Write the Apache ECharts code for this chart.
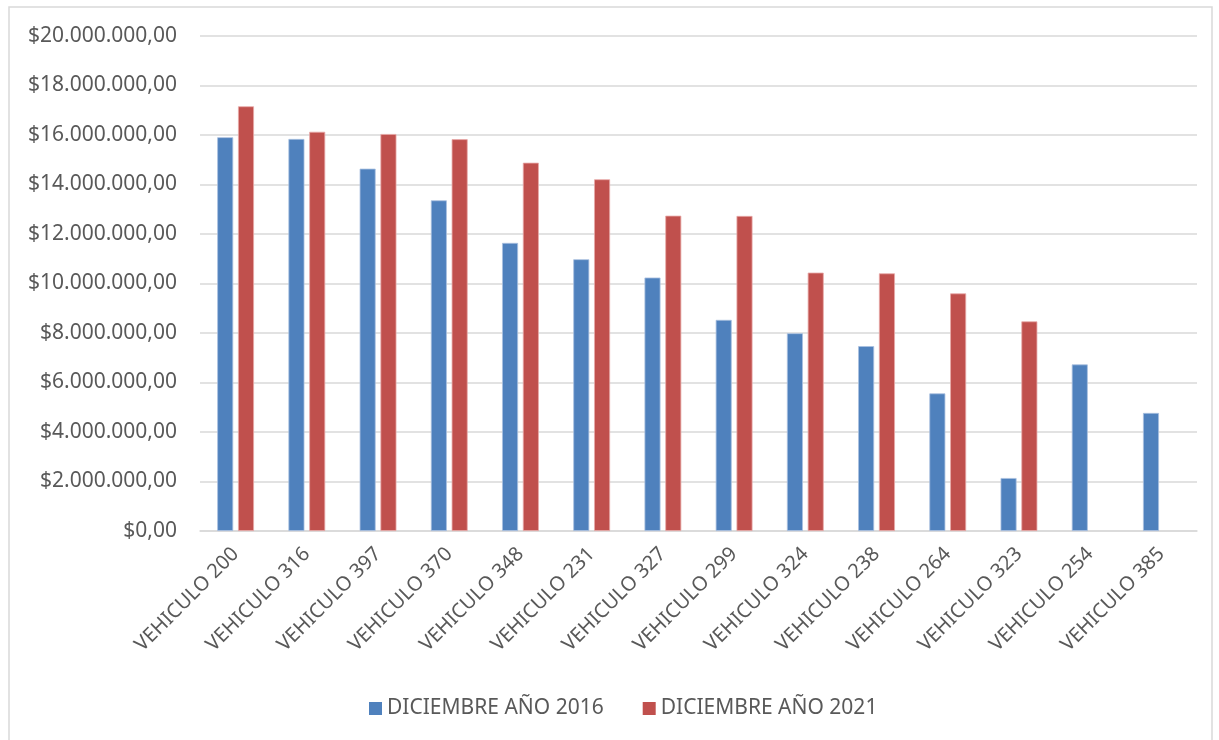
<!DOCTYPE html>
<html>
<head>
<meta charset="utf-8">
<script src="https://cdn.jsdelivr.net/npm/echarts@6/dist/echarts.min.js"></script>
<style>
html,body{margin:0;padding:0;background:#fff;}
#chart{width:1219px;height:740px;}
</style>
</head>
<body>
<div id="chart"></div>
<script>
const categories = ['VEHICULO 200','VEHICULO 316','VEHICULO 397','VEHICULO 370','VEHICULO 348','VEHICULO 231','VEHICULO 327','VEHICULO 299','VEHICULO 324','VEHICULO 238','VEHICULO 264','VEHICULO 323','VEHICULO 254','VEHICULO 385'];
const series2016 = [15910000,15840000,14640000,13360000,11640000,10980000,10240000,8530000,7990000,7470000,5560000,2140000,6730000,4770000];
const series2021 = [17160000,16130000,16040000,15830000,14880000,14210000,12740000,12730000,10440000,10410000,9600000,8470000,null,null];
const seriesNames = ['DICIEMBRE AÑO 2016','DICIEMBRE AÑO 2021'];
const yTicks = {min:0, max:20000000, interval:2000000};

function fmt(v){
  const s = Math.round(v).toString().replace(/\B(?=(\d{3})+(?!\d))/g,'.');
  return '$' + s + ',00';
}
const FONT = 'Noto Sans';
const chart = echarts.init(document.getElementById('chart'));
chart.setOption({
  animation:false,
  backgroundColor:'#ffffff',
  graphic:[{type:'rect',shape:{x:9,y:7,width:1203,height:740},style:{fill:'none',stroke:'#d9d9d9',lineWidth:1.5},silent:true}],
  grid:{left:200,right:22,top:36,bottom:209},
  legend:{
    bottom:16,left:364,itemWidth:13,itemHeight:13,itemGap:39,
    icon:'rect',
    itemStyle:{borderWidth:0},
    textStyle:{fontFamily:FONT,fontSize:21,color:'#595959'},
    data:seriesNames
  },
  xAxis:{
    type:'category',data:categories,
    axisLine:{lineStyle:{color:'#d9d9d9',width:1.5}},
    axisTick:{show:false},
    axisLabel:{rotate:45,interval:0,margin:20,fontFamily:FONT,fontSize:20,color:'#595959'}
  },
  yAxis:{
    type:'value',min:yTicks.min,max:yTicks.max,interval:yTicks.interval,
    axisLine:{show:false},axisTick:{show:false},
    splitLine:{lineStyle:{color:'#d9d9d9',width:1.5}},
    axisLabel:{formatter:fmt,margin:23,fontFamily:FONT,fontSize:21,color:'#595959'}
  },
  series:[
    {name:seriesNames[0],type:'bar',data:series2016,barWidth:16,barGap:'30%',
     itemStyle:{color:'#4F81BD',borderColor:'#a9c0e0',borderWidth:0.8}},
    {name:seriesNames[1],type:'bar',data:series2021,barWidth:16,barGap:'30%',
     itemStyle:{color:'#C0504D',borderColor:'#e8aaa8',borderWidth:0.8}}
  ]
});
</script>
</body>
</html>
